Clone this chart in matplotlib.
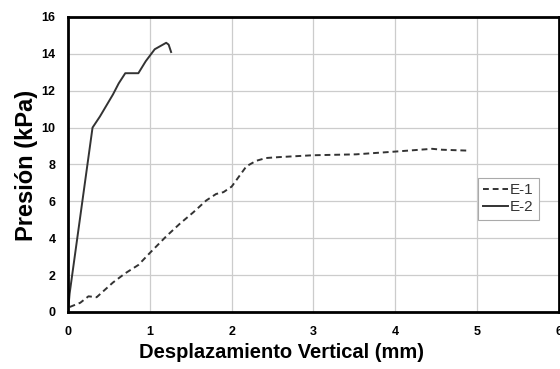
import matplotlib
matplotlib.use("Agg")
import matplotlib.pyplot as plt

e1_x = [0.02, 0.15, 0.25, 0.35, 0.55, 0.70, 0.86, 1.0, 1.2, 1.37, 1.53, 1.69, 1.81, 1.9, 2.0, 2.18, 2.3, 2.42, 2.58, 2.99, 3.52, 4.0, 4.45, 4.57, 4.9]
e1_y = [0.27, 0.5, 0.85, 0.8, 1.6, 2.1, 2.55, 3.2, 4.1, 4.8, 5.4, 6.05, 6.4, 6.5, 6.8, 7.9, 8.2, 8.35, 8.4, 8.5, 8.55, 8.7, 8.85, 8.8, 8.75]

e2_x = [0.0, 0.02, 0.3, 0.39, 0.47, 0.55, 0.62, 0.70, 0.86, 0.95, 1.06, 1.2, 1.23, 1.26]
e2_y = [0.0, 1.0, 10.0, 10.6, 11.2, 11.8, 12.4, 12.95, 12.95, 13.6, 14.25, 14.6, 14.5, 14.1]

xticks = [0, 1, 2, 3, 4, 5, 6]
yticks = [0, 2, 4, 6, 8, 10, 12, 14, 16]

plt.rcParams['font.family'] = ['Liberation Sans', 'DejaVu Sans']

fig = plt.figure(figsize=(5.6, 3.69), dpi=100)
ax = fig.add_axes([0.1214, 0.1545, 0.8768, 0.7995])

ax.plot(e1_x, e1_y, color='#333333', lw=1.4, ls=(0, (3, 2)), label='E-1')
ax.plot(e2_x, e2_y, color='#333333', lw=1.4, ls='-', label='E-2')

ax.set_xlim(0, 6)
ax.set_ylim(0, 16)
ax.set_xticks(xticks)
ax.set_yticks(yticks)
ax.grid(True, color='#cccccc', lw=0.9)
ax.set_axisbelow(True)
ax.tick_params(axis='x', length=0, labelsize=9, pad=10)
ax.tick_params(axis='y', length=0, labelsize=9, pad=9)
for lab in ax.get_xticklabels() + ax.get_yticklabels():
    lab.set_fontweight('bold')
for s in ax.spines.values():
    s.set_linewidth(2)
    s.set_color('black')

fig.text(0.502, 0.046, 'Desplazamiento Vertical (mm)', fontsize=14.5, fontweight='bold',
         ha='center', va='center')
fig.text(0.047, 0.553, 'Presión (kPa)', fontsize=17, fontweight='bold',
         ha='center', va='center', rotation=90)

leg = ax.legend(loc='upper left', bbox_to_anchor=(0.835, 0.454), fontsize=11,
                handlelength=1.6, handletextpad=0.15, fancybox=False, framealpha=1,
                borderpad=0.35, labelspacing=0.2, borderaxespad=0)
leg.get_frame().set_edgecolor('#aaaaaa')
leg.get_frame().set_linewidth(0.8)
for t in leg.get_texts():
    t.set_color('#333333')

fig.savefig('out.png', dpi=100)
